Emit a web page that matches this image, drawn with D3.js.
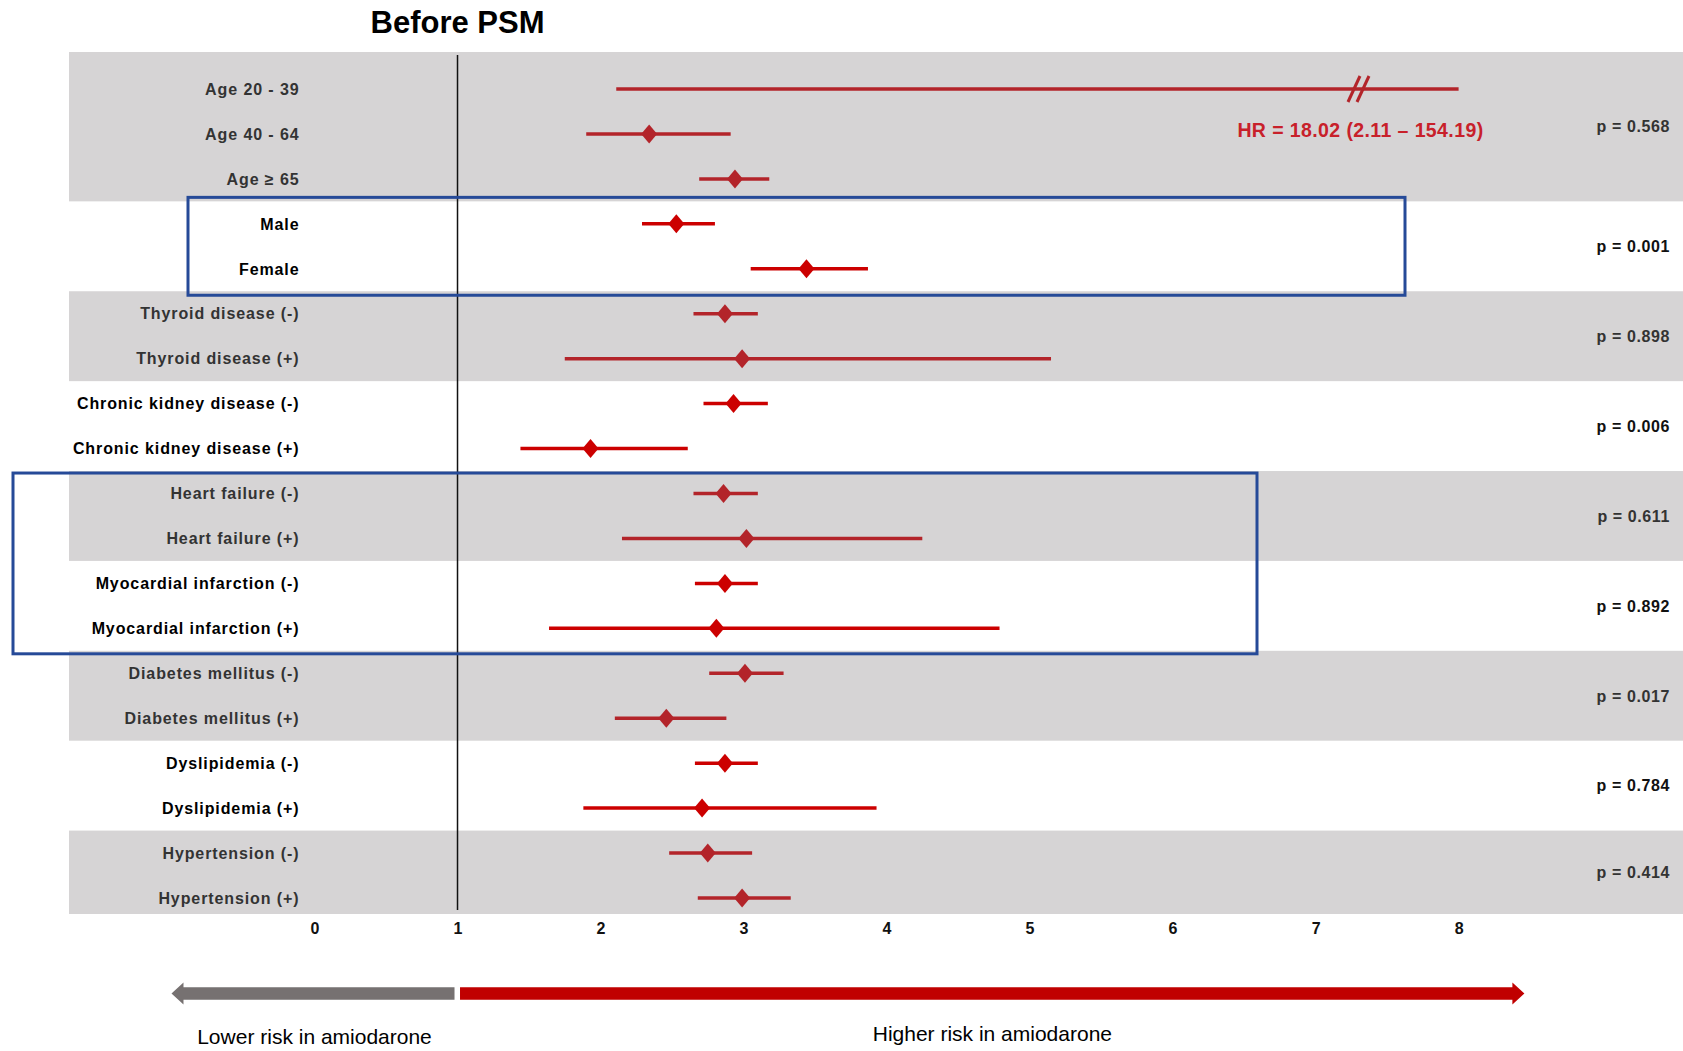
<!DOCTYPE html>
<html><head><meta charset="utf-8">
<script src="https://cdn.jsdelivr.net/npm/d3@7"></script>
<style>body{margin:0;background:#fff} svg{display:block}</style>
</head><body><svg id="c" width="1683" height="1051"></svg>
<script>
// ---------------- data ----------------
const labels = ["Age 20 - 39","Age 40 - 64","Age \u2265 65","Male","Female",
  "Thyroid disease (-)","Thyroid disease (+)","Chronic kidney disease (-)","Chronic kidney disease (+)",
  "Heart failure (-)","Heart failure (+)","Myocardial infarction (-)","Myocardial infarction (+)",
  "Diabetes mellitus (-)","Diabetes mellitus (+)","Dyslipidemia (-)","Dyslipidemia (+)",
  "Hypertension (-)","Hypertension (+)"];
const hr = [18.02, 2.34, 2.94, 2.53, 3.44, 2.87, 2.99, 2.93, 1.93, 2.86, 3.02, 2.87, 2.81, 3.01, 2.46, 2.87, 2.71, 2.75, 2.99];
const lo = [2.11, 1.90, 2.69, 2.29, 3.05, 2.65, 1.75, 2.72, 1.44, 2.65, 2.15, 2.66, 1.64, 2.76, 2.10, 2.66, 1.88, 2.48, 2.68];
const hi = [154.19, 2.91, 3.18, 2.80, 3.87, 3.10, 5.15, 3.17, 2.61, 3.10, 4.25, 3.10, 4.79, 3.28, 2.88, 3.10, 3.93, 3.06, 3.33];
const groupSizes = [3,2,2,2,2,2,2,2,2];
const pValues = ["0.568","0.001","0.898","0.006","0.611","0.892","0.017","0.784","0.414"];
const xTicks = [0,1,2,3,4,5,6,7,8];
const axisMax = 8;
const axisBreak = 7.3;
const hrNote = "HR = 18.02 (2.11 \u2013 154.19)";
const titleText = "Before PSM";
const lowerText = "Lower risk in amiodarone";
const higherText = "Higher risk in amiodarone";
const highlightGroups = [[1,1],[4,5]];

// ---------------- layout ----------------
const svg = d3.select("#c");
const x = d3.scaleLinear().domain([0, 8]).range([314.5, 1458.6]);
const y = d3.scaleLinear().domain([0, labels.length - 1]).range([89, 898]);
const half = (y(1) - y(0)) / 2;
const bandLeft = 69, bandRight = 1683, firstTop = 52, lastBottom = 914;
const FONT = "'Liberation Sans', Arial, Helvetica, sans-serif";
const GRAY_BAND = "#d6d4d5";
const RED_DARK = "#b3242a", RED_BRIGHT = "#cc0000";

// groups
let start = 0;
const groups = groupSizes.map((n, gi) => {
  const g = {gi, s: start, e: start + n - 1};
  g.top = gi === 0 ? firstTop : y(g.s) - half;
  g.bottom = gi === groupSizes.length - 1 ? lastBottom : y(g.e) + half;
  start += n;
  return g;
});
const rowGroup = labels.map((_, i) => groups.find(g => i >= g.s && i <= g.e).gi);

// bands
svg.append("g").selectAll("rect").data(groups.filter(g => g.gi % 2 === 0)).join("rect")
  .attr("x", bandLeft).attr("width", bandRight - bandLeft)
  .attr("y", d => d.top).attr("height", d => d.bottom - d.top)
  .attr("fill", GRAY_BAND);

// reference line at 1
svg.append("line").attr("x1", x(1)).attr("x2", x(1))
  .attr("y1", firstTop + 3).attr("y2", lastBottom - 4)
  .attr("stroke", "#111").attr("stroke-width", 1.5);

// title
svg.append("text").attr("x", x(1)).attr("y", 33).attr("text-anchor", "middle")
  .attr("font-family", FONT).attr("font-weight", "bold").attr("font-size", 31)
  .attr("fill", "#000").text(titleText);

// row labels
svg.append("g").selectAll("text").data(labels).join("text")
  .attr("x", 299.5).attr("y", (d, i) => y(i)).attr("dy", "0.36em")
  .attr("text-anchor", "end").attr("font-family", FONT).attr("font-weight", "bold")
  .attr("font-size", 16).attr("letter-spacing", "0.9px")
  .attr("fill", (d, i) => rowGroup[i] % 2 === 0 ? "#333" : "#000")
  .text(d => d);

// CI lines
const rows = labels.map((l, i) => ({i, l, hr: hr[i], lo: lo[i], hi: hi[i], c: rowGroup[i] % 2 === 0 ? RED_DARK : RED_BRIGHT}));
svg.append("g").selectAll("line").data(rows).join("line")
  .attr("x1", d => x(d.lo)).attr("x2", d => x(Math.min(d.hi, axisMax)))
  .attr("y1", d => y(d.i)).attr("y2", d => y(d.i))
  .attr("stroke", d => d.c).attr("stroke-width", 3.5);

// diamonds
svg.append("g").selectAll("path").data(rows.filter(d => d.hr <= axisMax)).join("path")
  .attr("transform", d => `translate(${x(d.hr)},${y(d.i)})`)
  .attr("d", "M0,-9.5L8,0L0,9.5L-8,0Z").attr("fill", d => d.c);

// axis break mark for truncated row
rows.filter(d => d.hi > axisMax).forEach(d => {
  const cx = x(axisBreak), cy = y(d.i);
  [-4.5, 4.5].forEach(off => {
    svg.append("line")
      .attr("x1", cx + off - 6).attr("y1", cy + 13)
      .attr("x2", cx + off + 6).attr("y2", cy - 13)
      .attr("stroke", d.c).attr("stroke-width", 3);
  });
  svg.append("text").attr("x", cx + 2).attr("y", cy + 48).attr("text-anchor", "middle")
    .attr("font-family", FONT).attr("font-weight", "bold").attr("font-size", 19.5)
    .attr("letter-spacing", "0.4px").attr("fill", "#c8202a").text(hrNote);
});

// p-values
svg.append("g").selectAll("text").data(groups).join("text")
  .attr("x", 1670).attr("y", d => (d.top + d.bottom) / 2).attr("dy", "0.36em")
  .attr("text-anchor", "end").attr("font-family", FONT).attr("font-weight", "bold")
  .attr("font-size", 16).attr("letter-spacing", "0.6px")
  .attr("fill", d => d.gi % 2 === 0 ? "#333" : "#111")
  .text(d => "p = " + pValues[d.gi]);

// highlight boxes
const boxX = [[188, 1405], [13, 1257]];
highlightGroups.forEach((hg, k) => {
  const top = groups[hg[0]].top + (k === 0 ? -4 : 2);
  const bottom = groups[hg[1]].bottom + (k === 0 ? 4 : 3);
  svg.append("rect").attr("x", boxX[k][0]).attr("y", top)
    .attr("width", boxX[k][1] - boxX[k][0]).attr("height", bottom - top)
    .attr("fill", "none").attr("stroke", "#264a98").attr("stroke-width", 3);
});

// x axis (labels only)
const ax = svg.append("g").attr("transform", `translate(0,${lastBottom})`)
  .call(d3.axisBottom(x).tickValues(xTicks).tickSize(0).tickPadding(9).tickFormat(d3.format("d")));
ax.select(".domain").remove();
ax.selectAll("text").attr("font-family", FONT).attr("font-weight", "bold")
  .attr("font-size", 16).attr("fill", "#111");

// direction arrows
const arrowY = 993.5, barH = 12.5, headH = 22, headL = 12;
function arrow(x0, x1, color, dir) {
  let pts;
  if (dir < 0) {
    pts = [[x1, arrowY - barH/2],[x0 + headL, arrowY - barH/2],[x0 + headL, arrowY - headH/2],[x0, arrowY],
           [x0 + headL, arrowY + headH/2],[x0 + headL, arrowY + barH/2],[x1, arrowY + barH/2]];
  } else {
    pts = [[x0, arrowY - barH/2],[x1 - headL, arrowY - barH/2],[x1 - headL, arrowY - headH/2],[x1, arrowY],
           [x1 - headL, arrowY + headH/2],[x1 - headL, arrowY + barH/2],[x0, arrowY + barH/2]];
  }
  svg.append("path").attr("d", d3.line()(pts) + "Z").attr("fill", color);
}
arrow(x(-1), x(1) - 3, "#767171", -1);
arrow(x(1) + 2.5, x(8.46), "#c00000", 1);

svg.append("text").attr("x", x(0)).attr("y", 1044).attr("text-anchor", "middle")
  .attr("font-family", FONT).attr("font-size", 21).attr("fill", "#000").text(lowerText);
svg.append("text").attr("x", x(4.74)).attr("y", 1041).attr("text-anchor", "middle")
  .attr("font-family", FONT).attr("font-size", 21).attr("fill", "#000").text(higherText);
</script>
</body></html>
